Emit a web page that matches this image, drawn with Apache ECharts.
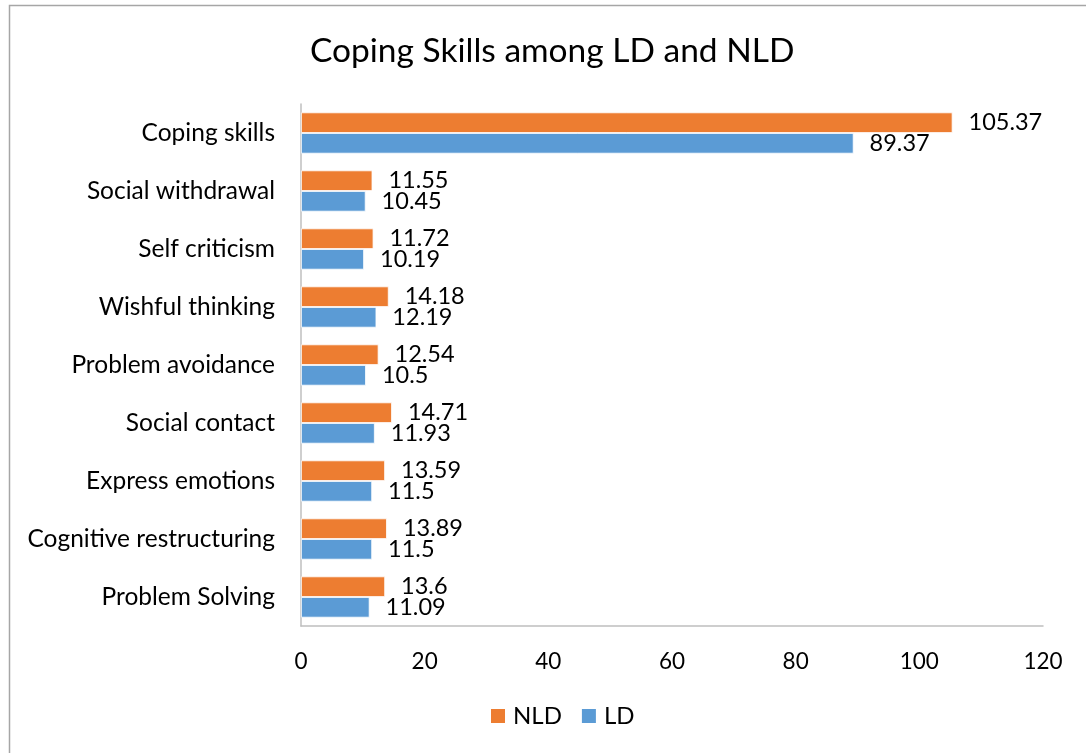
<!DOCTYPE html>
<html>
<head>
<meta charset="utf-8">
<script src="https://cdn.jsdelivr.net/npm/echarts@6/dist/echarts.min.js"></script>
<style>
  html, body { margin: 0; padding: 0; background: #fff; }
  #chart { width: 1086px; height: 753px; }
</style>
</head>
<body>
<div id="chart"></div>
<script>
// Categories listed bottom to top (category axis draws the first one at the bottom)
const categories = [
  'Problem Solving',
  'Cognitive restructuring',
  'Express emotions',
  'Social contact',
  'Problem avoidance',
  'Wishful thinking',
  'Self criticism',
  'Social withdrawal',
  'Coping skills'
];
const nldValues = [13.6, 13.89, 13.59, 14.71, 12.54, 14.18, 11.72, 11.55, 105.37];
const ldValues  = [11.09, 11.5, 11.5, 11.93, 10.5, 12.19, 10.19, 10.45, 89.37];
const xTicks = { min: 0, max: 120, interval: 20 };

const FONT = 'Lato, "Open Sans", sans-serif';
const chart = echarts.init(document.getElementById('chart'), null, { renderer: 'canvas' });

const labelStyle = {
  show: true,
  position: 'right',
  distance: 16,
  color: '#000',
  fontFamily: FONT,
  fontSize: 23.5
};

chart.setOption({
  animation: false,
  backgroundColor: '#fff',
  title: {
    text: 'Coping Skills among LD and NLD',
    left: 305,
    top: 29,
    textStyle: { fontFamily: FONT, fontSize: 33.5, fontWeight: 'normal', color: '#000' }
  },
  graphic: [{
    type: 'rect',
    shape: { x: 9.5, y: 5.5, width: 1100, height: 800 },
    style: { fill: 'none', stroke: '#a6a6a6', lineWidth: 1.5 },
    silent: true,
    z: -1
  }],
  legend: {
    bottom: 20,
    left: 484,
    itemWidth: 16,
    itemHeight: 16,
    itemGap: 18,
    icon: 'rect',
    textStyle: { fontFamily: FONT, fontSize: 24, color: '#000', padding: [0, 0, 0, 2] },
    data: ['NLD', 'LD']
  },
  grid: { left: 301, right: 43, top: 104, bottom: 127, containLabel: false },
  xAxis: {
    type: 'value',
    min: xTicks.min,
    max: xTicks.max,
    interval: xTicks.interval,
    axisLine: { show: true, lineStyle: { color: '#bfbfbf', width: 1.5 } },
    axisTick: { show: false },
    splitLine: { show: false },
    axisLabel: { margin: 24, fontFamily: FONT, fontSize: 22.5, color: '#000' }
  },
  yAxis: {
    type: 'category',
    data: categories,
    axisLine: { show: true, lineStyle: { color: '#bfbfbf', width: 1.5 } },
    axisTick: { show: false },
    axisLabel: { margin: 26, fontFamily: FONT, fontSize: 24.5, color: '#000' }
  },
  series: [
    {
      name: 'NLD',
      type: 'bar',
      data: nldValues,
      barGap: '0%',
      barCategoryGap: '29%',
      itemStyle: { color: '#ed7d31', borderColor: '#ffffff', borderWidth: 0.8 },
      label: labelStyle
    },
    {
      name: 'LD',
      type: 'bar',
      data: ldValues,
      barGap: '0%',
      barCategoryGap: '29%',
      itemStyle: { color: '#5b9bd5', borderColor: '#ffffff', borderWidth: 0.8 },
      label: labelStyle
    }
  ]
});
</script>
</body>
</html>
